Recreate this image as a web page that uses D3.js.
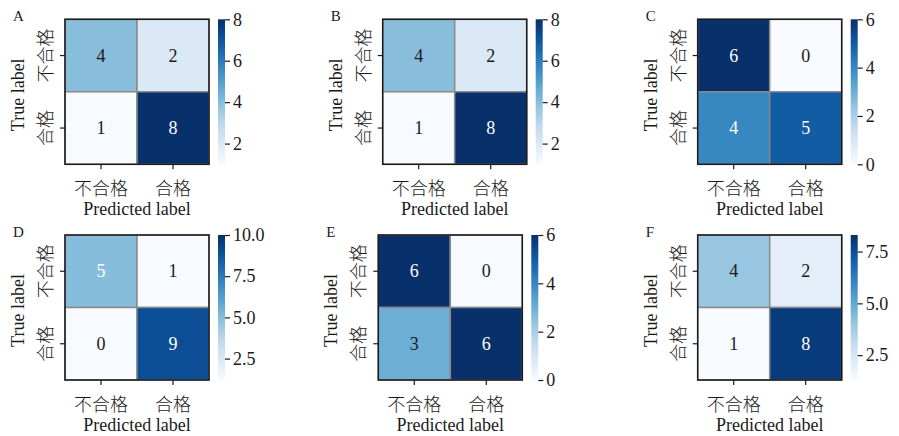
<!DOCTYPE html>
<html>
<head>
<meta charset="utf-8">
<script src="https://cdn.jsdelivr.net/npm/d3@7"></script>
<style>
  html, body { margin: 0; padding: 0; background: #fff; }
  svg { display: block; }
  .lat { font-family: "Liberation Serif", "Times New Roman", serif; }
  .cjk { font-family: "Noto Sans CJK SC", sans-serif; font-weight: 300; }
</style>
</head>
<body>
<svg id="chart" width="899" height="436"></svg>
<script>
// ---------------- data ----------------
const categories = ["不合格", "合格"];
const panelLabels = ["A", "B", "C", "D", "E", "F"];
const matA = [[4, 2], [1, 8]];
const matB = [[4, 2], [1, 8]];
const matC = [[6, 0], [4, 5]];
const matD = [[5, 1], [0, 9]];
const matE = [[6, 0], [3, 6]];
const matF = [[4, 2], [1, 8]];
const domainA = [1, 8], domainB = [1, 8], domainC = [0, 6];
const domainD = [1.2, 10], domainE = [0, 6], domainF = [1.3, 8.3];
const ticksA = [2, 4, 6, 8], ticksB = [2, 4, 6, 8], ticksC = [0, 2, 4, 6];
const ticksD = [2.5, 5.0, 7.5, 10.0], ticksE = [0, 2, 4, 6], ticksF = [2.5, 5.0, 7.5];
const tickFmtA = "d", tickFmtB = "d", tickFmtC = "d", tickFmtD = ".1f", tickFmtE = "d", tickFmtF = ".1f";
// annotation text drawn light (white) on these cells
const lightA = [[false, false], [false, true]];
const lightB = [[false, false], [false, true]];
const lightC = [[true, false], [true, true]];
const lightD = [[true, false], [false, true]];
const lightE = [[true, false], [false, true]];
const lightF = [[false, false], [false, true]];
const xAxisTitle = "Predicted label";
const yAxisTitle = "True label";

const mats = [matA, matB, matC, matD, matE, matF];
const domains = [domainA, domainB, domainC, domainD, domainE, domainF];
const cbTicks = [ticksA, ticksB, ticksC, ticksD, ticksE, ticksF];
const cbFmts = [tickFmtA, tickFmtB, tickFmtC, tickFmtD, tickFmtE, tickFmtF];
const lights = [lightA, lightB, lightC, lightD, lightE, lightF];

// ---------------- layout ----------------
const boxX = [65, 382.7, 697.7, 65, 378.3, 697.7];
const boxY = [19.3, 19.3, 19.3, 235, 235, 235];
const W = 144, H = 145;
const cbOff = 153, cbW = 7;

const svg = d3.select("#chart");
const defs = svg.append("defs");
const grad = defs.append("linearGradient").attr("id", "blues")
  .attr("x1", 0).attr("y1", 1).attr("x2", 0).attr("y2", 0);
d3.range(0, 1.0001, 0.05).forEach(t => {
  grad.append("stop").attr("offset", t).attr("stop-color", d3.interpolateBlues(t));
});

mats.forEach((mat, p) => {
  const g = svg.append("g").attr("transform", `translate(${boxX[p]},${boxY[p]})`);
  const x = d3.scaleBand().domain(categories).range([0, W]);
  const y = d3.scaleBand().domain(categories).range([0, H]);
  const color = d3.scaleSequential(d3.interpolateBlues).domain(domains[p]).clamp(true);

  const cells = [];
  mat.forEach((row, i) => row.forEach((v, j) => cells.push({ r: categories[i], c: categories[j], v, light: lights[p][i][j] })));

  g.selectAll("rect.cell").data(cells).join("rect")
    .attr("class", "cell")
    .attr("x", d => x(d.c)).attr("y", d => y(d.r))
    .attr("width", x.bandwidth()).attr("height", y.bandwidth())
    .attr("fill", d => color(d.v))
    .attr("stroke", "#8a8a8a").attr("stroke-width", 1.5);

  g.selectAll("text.ann").data(cells).join("text")
    .attr("class", "ann lat")
    .attr("x", d => x(d.c) + x.bandwidth() / 2)
    .attr("y", d => y(d.r) + y.bandwidth() / 2)
    .attr("text-anchor", "middle").attr("dominant-baseline", "central")
    .attr("font-size", 18)
    .attr("fill", d => d.light ? "#ffffff" : "#1a1a1a")
    .text(d => d.v);

  g.append("rect").attr("x", 0).attr("y", 0).attr("width", W).attr("height", H)
    .attr("fill", "none").attr("stroke", "#1a1a1a").attr("stroke-width", 1.5);

  // axes
  const ax = g.append("g").attr("transform", `translate(0,${H})`)
    .call(d3.axisBottom(x).tickSize(5).tickPadding(4));
  ax.select(".domain").remove();
  ax.selectAll("line").attr("stroke", "#1a1a1a").attr("stroke-width", 1.2);
  ax.selectAll("text").attr("class", "cjk").attr("font-size", 18).attr("fill", "#1a1a1a")
    .attr("dy", null).attr("y", 23).attr("dominant-baseline", "central");

  const ay = g.append("g").call(d3.axisLeft(y).tickSize(5));
  ay.select(".domain").remove();
  ay.selectAll("line").attr("stroke", "#1a1a1a").attr("stroke-width", 1.2);
  ay.selectAll("text").attr("class", "cjk").attr("font-size", 18).attr("fill", "#1a1a1a")
    .attr("x", null).attr("dy", null)
    .attr("text-anchor", "middle").attr("dominant-baseline", "central")
    .attr("transform", "translate(-21,0) rotate(-90)");

  g.append("text").attr("class", "lat")
    .attr("x", W / 2).attr("y", H + 51)
    .attr("text-anchor", "middle").attr("font-size", 18).attr("fill", "#1a1a1a")
    .text(xAxisTitle);

  g.append("text").attr("class", "lat")
    .attr("transform", `translate(-47,${H / 2 + 3}) rotate(-90)`)
    .attr("text-anchor", "middle").attr("dominant-baseline", "central")
    .attr("font-size", 18).attr("fill", "#1a1a1a")
    .text(yAxisTitle);

  g.append("text").attr("class", "lat")
    .attr("x", -52).attr("y", 1.8)
    .attr("font-size", 15).attr("fill", "#1a1a1a")
    .text(panelLabels[p]);

  // colorbar
  const cb = g.append("g").attr("transform", `translate(${cbOff},0)`);
  cb.append("rect").attr("width", cbW).attr("height", H).attr("fill", "url(#blues)");
  const cs = d3.scaleLinear().domain(domains[p]).range([H, 0]);
  const ac = cb.append("g").attr("transform", `translate(${cbW},0)`)
    .call(d3.axisRight(cs).tickValues(cbTicks[p]).tickFormat(d3.format(cbFmts[p])).tickSize(5).tickPadding(3));
  ac.select(".domain").remove();
  ac.selectAll("line").attr("stroke", "#1a1a1a").attr("stroke-width", 1.2);
  ac.selectAll("text").attr("class", "lat").attr("font-size", 18).attr("fill", "#1a1a1a");
});
</script>
</body>
</html>
